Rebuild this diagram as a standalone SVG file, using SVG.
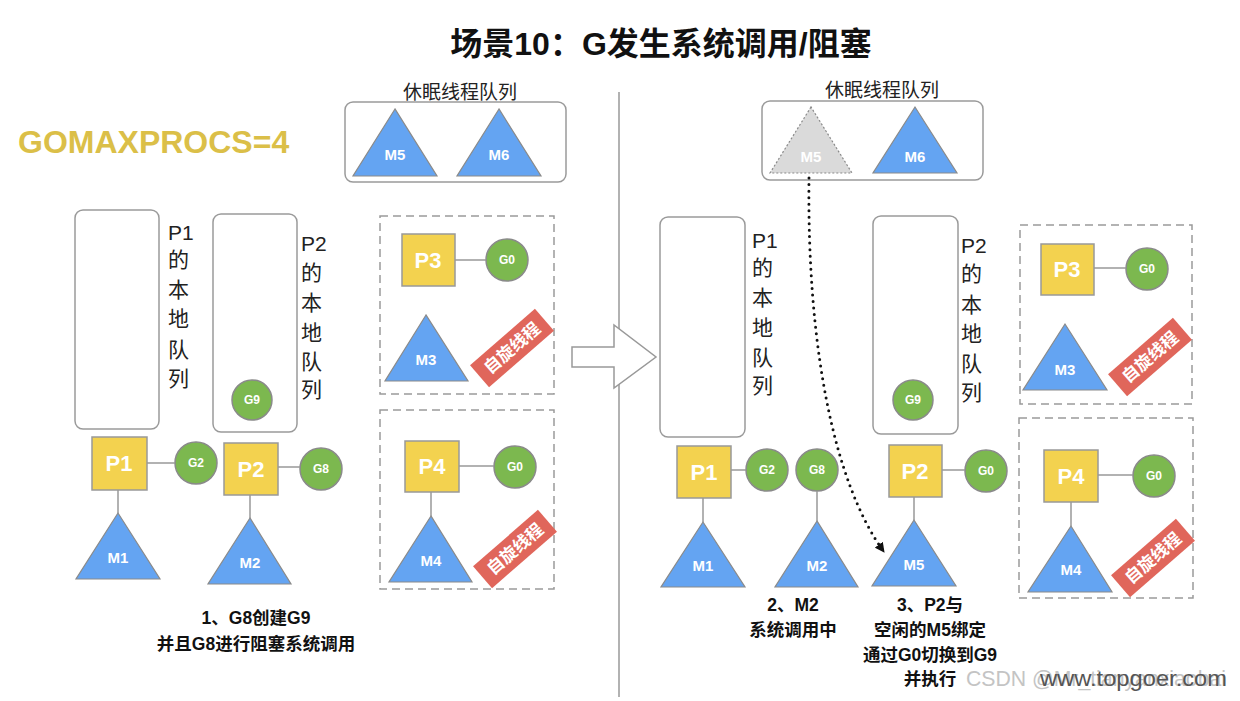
<svg xmlns="http://www.w3.org/2000/svg" width="1240" height="701" viewBox="0 0 1240 701">
<style>
text{font-family:"Liberation Sans","Noto Sans CJK SC",sans-serif}
.q{fill:#fff;stroke:#9a9a9a;stroke-width:1.5}
.dash{fill:none;stroke:#9a9a9a;stroke-width:1.5;stroke-dasharray:8 5}
.p{fill:#F3D24F;stroke:#999;stroke-width:1.5}
.g{fill:#7CB84F;stroke:#8a8a8a;stroke-width:1.5}
.m{fill:#64A4F2;stroke:#8a8a8a;stroke-width:1.2}
.mg{fill:#DADADA;stroke:#8a8a8a;stroke-width:1.2;stroke-dasharray:2 2}
.ln{stroke:#999;stroke-width:1.5;fill:none}
.pt{font-weight:bold;font-size:22px;fill:#fff;text-anchor:middle}
.gt{font-weight:bold;font-size:12px;fill:#fff;text-anchor:middle}
.mt{font-weight:bold;font-size:15px;fill:#fff;text-anchor:middle}
.vt{font-size:21px;fill:#222}
.lab{font-size:19px;fill:#222;text-anchor:middle}
.cap{font-weight:bold;font-size:17.5px;fill:#111;text-anchor:middle}
.ban{fill:#E0665B}
.bt{font-weight:bold;font-size:17px;fill:#fff;text-anchor:middle}
</style>
<defs>
<marker id="ah" viewBox="0 0 10 10" refX="9" refY="5" markerWidth="10" markerHeight="10" markerUnits="userSpaceOnUse" orient="auto">
<path d="M0,0 L10,5 L0,10 z" fill="#111"/>
</marker>
</defs>
<rect width="1240" height="701" fill="#fff"/>

<text x="661" y="55" font-size="32" font-weight="bold" text-anchor="middle" fill="#111">场景10：G发生系统调用/阻塞</text>
<text x="18" y="153" font-size="32" font-weight="bold" fill="#DBBF48">GOMAXPROCS=4</text>

<g id="decor">
<line x1="619" y1="92" x2="619" y2="697" class="ln"/>
<polygon points="572,347 614,347 614,325 656,357 614,388 614,367 572,367" fill="#fff" stroke="#999" stroke-width="1.5"/>
</g>

<!-- LEFT -->
<g id="sleep-left">
<text x="460" y="99" class="lab">休眠线程队列</text>
<rect x="345" y="102" width="221" height="80" rx="8" class="q"/>
<polygon points="395,109 353,176 437,176" class="m"/>
<text x="395" y="160" class="mt">M5</text>
<polygon points="499,109 457,176 541,176" class="m"/>
<text x="499" y="160" class="mt">M6</text>
</g>

<g id="p1q-left">
<rect x="75" y="210" width="84" height="219" rx="8" class="q"/>
<text class="vt"><tspan x="168" y="240">P1</tspan><tspan x="168" y="267">的</tspan><tspan x="168" y="297">本</tspan><tspan x="168" y="326">地</tspan><tspan x="168" y="357">队</tspan><tspan x="168" y="386">列</tspan></text>
</g>
<g id="p2q-left">
<rect x="213" y="214" width="84" height="218" rx="8" class="q"/>
<text class="vt"><tspan x="301" y="251">P2</tspan><tspan x="301" y="280">的</tspan><tspan x="301" y="310">本</tspan><tspan x="301" y="340">地</tspan><tspan x="301" y="369">队</tspan><tspan x="301" y="397">列</tspan></text>
<circle cx="252" cy="400" r="20" class="g"/>
<text x="252" y="404" class="gt">G9</text>
</g>

<g id="p3-left">
<rect x="380" y="216" width="174" height="178" class="dash"/>
<rect x="402" y="234" width="53" height="52" class="p"/>
<text x="428" y="268" class="pt">P3</text>
<circle cx="507" cy="260" r="21" class="g"/>
<text x="507" y="264" class="gt">G0</text>
<polygon points="426,315 385,381 468,381" class="m"/>
<text x="426" y="365" class="mt">M3</text>
<g transform="translate(512,348) rotate(-41)">
<rect x="-43" y="-14.5" width="86" height="29" class="ban"/>
<text x="0" y="6" class="bt">自旋线程</text>
</g>
</g>

<g id="p4-left">
<rect x="380" y="410" width="174" height="179" class="dash"/>
<rect x="405" y="441" width="54" height="51" class="p"/>
<text x="432" y="474" class="pt">P4</text>
<circle cx="515" cy="467" r="21" class="g"/>
<text x="515" y="471" class="gt">G0</text>
<polygon points="431,516 389,582 472,582" class="m"/>
<text x="431" y="566" class="mt">M4</text>
<g transform="translate(515,549) rotate(-41)">
<rect x="-43" y="-14.5" width="86" height="29" class="ban"/>
<text x="0" y="6" class="bt">自旋线程</text>
</g>
</g>

<g id="p1-left">
<rect x="92" y="437" width="55" height="53" class="p"/>
<text x="119" y="471" class="pt">P1</text>
</g>
<g id="g2-left"><circle cx="196" cy="463" r="21" class="g"/><text x="196" y="467" class="gt">G2</text></g>
<g id="m1-left"><polygon points="118,513 76,579 160,579" class="m"/><text x="118" y="563" class="mt">M1</text></g>
<g id="p2-left">
<rect x="224" y="443" width="54" height="52" class="p"/>
<text x="251" y="477" class="pt">P2</text>
</g>
<g id="g8-left"><circle cx="321" cy="469" r="21" class="g"/><text x="321" y="473" class="gt">G8</text></g>
<g id="m2-left"><polygon points="250,518 208,584 291,584" class="m"/><text x="250" y="568" class="mt">M2</text></g>

<g id="cap-left">
<text x="256" y="624" class="cap">1、G8创建G9</text>
<text x="256" y="650" class="cap">并且G8进行阻塞系统调用</text>
</g>

<!-- RIGHT -->
<g id="sleep-right">
<text x="882" y="97" class="lab">休眠线程队列</text>
<rect x="762" y="101" width="221" height="79" rx="8" class="q"/>
<polygon points="811,107 770,173 852,173" class="mg"/>
<text x="811" y="162" class="mt">M5</text>
<polygon points="915,107 873,173 957,173" class="m"/>
<text x="915" y="162" class="mt">M6</text>
</g>

<g id="p1q-right">
<rect x="660" y="217" width="85" height="220" rx="8" class="q"/>
<text class="vt"><tspan x="752" y="248">P1</tspan><tspan x="752" y="275">的</tspan><tspan x="752" y="305">本</tspan><tspan x="752" y="335">地</tspan><tspan x="752" y="365">队</tspan><tspan x="752" y="393">列</tspan></text>
</g>
<g id="p2q-right">
<rect x="873" y="216" width="85" height="218" rx="8" class="q"/>
<text class="vt"><tspan x="961" y="253">P2</tspan><tspan x="961" y="281">的</tspan><tspan x="961" y="312">本</tspan><tspan x="961" y="341">地</tspan><tspan x="961" y="371">队</tspan><tspan x="961" y="400">列</tspan></text>
<circle cx="913" cy="400" r="20" class="g"/>
<text x="913" y="404" class="gt">G9</text>
</g>

<g id="p3-right">
<rect x="1020" y="225" width="172" height="179" class="dash"/>
<rect x="1041" y="244" width="53" height="51" class="p"/>
<text x="1067" y="277" class="pt">P3</text>
<circle cx="1147" cy="269" r="21" class="g"/>
<text x="1147" y="273" class="gt">G0</text>
<polygon points="1065,324 1023,390 1107,390" class="m"/>
<text x="1065" y="375" class="mt">M3</text>
<g transform="translate(1150,357) rotate(-41)">
<rect x="-43" y="-14.5" width="86" height="29" class="ban"/>
<text x="0" y="6" class="bt">自旋线程</text>
</g>
</g>

<g id="p4-right">
<rect x="1019" y="418" width="174" height="180" class="dash"/>
<rect x="1044" y="450" width="54" height="52" class="p"/>
<text x="1071" y="484" class="pt">P4</text>
<circle cx="1154" cy="476" r="21" class="g"/>
<text x="1154" y="480" class="gt">G0</text>
<polygon points="1071,526 1028,592 1112,592" class="m"/>
<text x="1071" y="575" class="mt">M4</text>
<g transform="translate(1153,558) rotate(-41)">
<rect x="-43" y="-14.5" width="86" height="29" class="ban"/>
<text x="0" y="6" class="bt">自旋线程</text>
</g>
</g>

<g id="p1-right">
<rect x="677" y="446" width="54" height="52" class="p"/>
<text x="704" y="480" class="pt">P1</text>
</g>
<g id="g2-right"><circle cx="767" cy="470" r="21" class="g"/><text x="767" y="474" class="gt">G2</text></g>
<g id="g8-right"><circle cx="817" cy="470" r="21" class="g"/><text x="817" y="474" class="gt">G8</text></g>
<g id="m1-right"><polygon points="703,522 661,587 745,587" class="m"/><text x="703" y="571" class="mt">M1</text></g>
<g id="m2-right"><polygon points="817,521 775,587 858,587" class="m"/><text x="817" y="571" class="mt">M2</text></g>
<g id="p2-right">
<rect x="889" y="445" width="53" height="52" class="p"/>
<text x="915" y="479" class="pt">P2</text>
</g>
<g id="g0-right"><circle cx="986" cy="471" r="21" class="g"/><text x="986" y="475" class="gt">G0</text></g>
<g id="m5-right"><polygon points="914,520 872,586 956,586" class="m"/><text x="914" y="570" class="mt">M5</text></g>

<g id="cap-right">
<text x="793" y="611" class="cap">2、M2</text>
<text x="793" y="636" class="cap">系统调用中</text>
<text x="930" y="611" class="cap">3、P2与</text>
<text x="930" y="636" class="cap">空闲的M5绑定</text>
<text x="930" y="661" class="cap">通过G0切换到G9</text>
<text x="930" y="685" class="cap">并执行</text>
</g>

<g id="connectors">
<line x1="147" y1="463" x2="175" y2="463" class="ln"/>
<line x1="118" y1="490" x2="118" y2="513" class="ln"/>
<line x1="278" y1="467" x2="300" y2="467" class="ln"/>
<line x1="250" y1="495" x2="250" y2="518" class="ln"/>
<line x1="455" y1="260" x2="486" y2="260" class="ln"/>
<line x1="459" y1="466" x2="494" y2="466" class="ln"/>
<line x1="431" y1="492" x2="431" y2="516" class="ln"/>
<line x1="731" y1="470" x2="746" y2="470" class="ln"/>
<line x1="703" y1="498" x2="703" y2="522" class="ln"/>
<line x1="817" y1="491" x2="817" y2="521" class="ln"/>
<line x1="942" y1="470" x2="965" y2="470" class="ln"/>
<line x1="914" y1="497" x2="914" y2="520" class="ln"/>
<line x1="1094" y1="268" x2="1126" y2="268" class="ln"/>
<line x1="1098" y1="475" x2="1133" y2="475" class="ln"/>
<line x1="1071" y1="502" x2="1071" y2="526" class="ln"/>
<path d="M809,178 C807,340 832,480 884,552" fill="none" stroke="#111" stroke-width="3" stroke-linecap="round" stroke-dasharray="0 6.5" marker-end="url(#ah)"/>
</g>

<g id="watermark">
<text x="966" y="686" font-size="22" fill="#c4c4c4" textLength="260" lengthAdjust="spacingAndGlyphs">CSDN @Mr_tianyanxiaobai</text>
<text x="1040" y="686" font-size="22" fill="#555" textLength="187" lengthAdjust="spacingAndGlyphs">www.topgoer.com</text>
</g>
</svg>
